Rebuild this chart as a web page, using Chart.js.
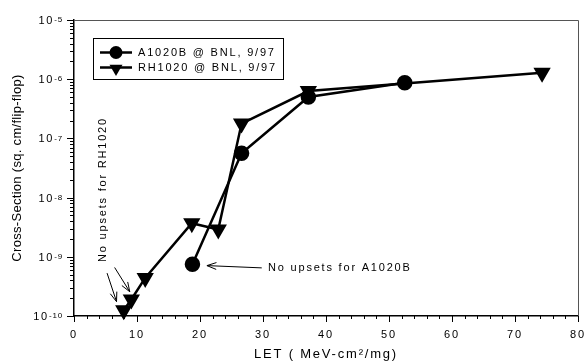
<!DOCTYPE html>
<html>
<head>
<meta charset="utf-8">
<script src="https://cdn.jsdelivr.net/npm/chart.js@4/dist/chart.umd.min.js"></script>
<style>
  html, body { margin: 0; padding: 0; background: #fff; }
  canvas { display: block; }
</style>
</head>
<body>
<canvas id="myChart" width="588" height="364"></canvas>
<script>
// LET (MeV-cm2/mg) and cross-section (sq. cm/flip-flop)
let letA = [18.8, 26.6, 37.2, 52.5];
let csA = [7.5e-10, 5.6e-8, 5.0e-7, 8.7e-7];
let letRH = [7.9, 9.1, 11.3, 18.7, 22.9, 26.6, 37.2, 74.3];
let csRH = [1.25e-10, 1.9e-10, 4.4e-10, 3.7e-9, 2.9e-9, 1.78e-7, 6.3e-7, 1.28e-6];
let seriesNames = ['A1020B @ BNL, 9/97', 'RH1020 @ BNL, 9/97'];
let yTickExps = [-10, -9, -8, -7, -6, -5];

const FONT = '"Liberation Sans", Arial, sans-serif';

function toPoints(xs, ys) {
    return xs.map((x, i) => ({ x: x, y: ys[i] }));
}

function arrow(ctx, x1, y1, x2, y2) {
    let a = Math.atan2(y2 - y1, x2 - x1);
    let len = 10, spread = 0.35;
    ctx.beginPath();
    ctx.moveTo(x1, y1);
    ctx.lineTo(x2, y2);
    ctx.moveTo(x2 - len * Math.cos(a - spread), y2 - len * Math.sin(a - spread));
    ctx.lineTo(x2, y2);
    ctx.lineTo(x2 - len * Math.cos(a + spread), y2 - len * Math.sin(a + spread));
    ctx.stroke();
}

function marker(ctx, style, x, y) {
    ctx.beginPath();
    if (style === 'circle') {
        ctx.arc(x, y, 6.5, 0, Math.PI * 2);
    } else {
        let r = 7.5;
        ctx.moveTo(x, y + r);
        ctx.lineTo(x - r * 0.866, y - r / 2);
        ctx.lineTo(x + r * 0.866, y - r / 2);
        ctx.closePath();
    }
    ctx.fill();
}

// extra drawing: minor ticks, frame, superscript labels, legend box, notes
const decor = {
    id: 'decor',
    beforeLayout(chart) { chart.ctx.letterSpacing = '1.8px'; },
    beforeDraw(chart) { chart.ctx.letterSpacing = '1.8px'; },
    beforeDatasetsDraw(chart) {
        let ctx = chart.ctx, a = chart.chartArea;
        let xs = chart.scales.x, ys = chart.scales.y;
        ctx.save();
        // top / right frame
        ctx.strokeStyle = '#555';
        ctx.lineWidth = 1;
        ctx.beginPath();
        ctx.moveTo(a.left, a.top + 0.5);
        ctx.lineTo(a.right + 0.5, a.top + 0.5);
        ctx.lineTo(a.right + 0.5, a.bottom);
        ctx.stroke();
        // x ticks
        ctx.strokeStyle = '#000';
        ctx.beginPath();
        for (let v = 0; v <= 80; v += 2) {
            let px = Math.round(xs.getPixelForValue(v)) + 0.5;
            let l = v % 10 === 0 ? 6 : 3;
            ctx.moveTo(px, a.bottom);
            ctx.lineTo(px, a.bottom + l);
        }
        // y ticks (log minors)
        for (let e = yTickExps[0]; e < yTickExps[yTickExps.length - 1]; e++) {
            for (let m = 1; m <= 9; m++) {
                let py = Math.round(ys.getPixelForValue(m * Math.pow(10, e))) + 0.5;
                let l = m === 1 ? 7 : 4;
                ctx.moveTo(a.left, py);
                ctx.lineTo(a.left - l, py);
            }
        }
        let pt = Math.round(ys.getPixelForValue(Math.pow(10, yTickExps[yTickExps.length - 1]))) + 0.5;
        ctx.moveTo(a.left, pt);
        ctx.lineTo(a.left - 7, pt);
        ctx.stroke();
        ctx.restore();
    },
    afterDraw(chart) {
        let ctx = chart.ctx, a = chart.chartArea;
        let xs = chart.scales.x, ys = chart.scales.y;
        ctx.save();
        ctx.fillStyle = '#000';
        ctx.strokeStyle = '#000';
        ctx.letterSpacing = '1.8px';

        // y tick labels 10^e
        yTickExps.forEach(e => {
            let py = ys.getPixelForValue(Math.pow(10, e));
            ctx.font = '8px ' + FONT;
            ctx.letterSpacing = '0.8px';
            let sup = String(e);
            let wSup = ctx.measureText(sup).width;
            ctx.textAlign = 'left';
            ctx.textBaseline = 'top';
            let right = a.left - 11;
            ctx.fillText(sup, right - wSup, py - 4);
            ctx.font = '11px ' + FONT;
            ctx.letterSpacing = '1.8px';
            ctx.textAlign = 'right';
            ctx.textBaseline = 'middle';
            ctx.fillText('10', right - wSup, py + 1);
        });

        // y title
        ctx.save();
        ctx.font = '13px ' + FONT;
        ctx.letterSpacing = '0.3px';
        ctx.translate(17, (a.top + a.bottom) / 2);
        ctx.rotate(-Math.PI / 2);
        ctx.textAlign = 'center';
        ctx.textBaseline = 'middle';
        ctx.fillText('Cross-Section (sq. cm/flip-flop)', 0, 0);
        ctx.restore();

        // legend
        ctx.lineWidth = 1;
        ctx.strokeRect(93.5, 38.5, 190, 41);
        ctx.font = '11px ' + FONT;
        ctx.letterSpacing = '1.8px';
        ctx.textAlign = 'left';
        ctx.textBaseline = 'middle';
        ['circle', 'triangle'].forEach((s, i) => {
            let y = 52.5 + i * 15;
            ctx.lineWidth = 2.5;
            ctx.beginPath();
            ctx.moveTo(100, y);
            ctx.lineTo(132, y);
            ctx.stroke();
            marker(ctx, s, 116, s === 'circle' ? y : y + 1);
            ctx.fillText(seriesNames[i], 138, y);
        });

        // notes
        ctx.lineWidth = 1;
        let X = v => xs.getPixelForValue(v), Y = v => ys.getPixelForValue(v);
        arrow(ctx, X(29.8), Y(6.5e-10), X(21.1), Y(7.1e-10));
        ctx.fillText('No upsets for A1020B', X(30.8), Y(6.5e-10));
        arrow(ctx, X(5.25), Y(5.3e-10), X(6.75), Y(1.75e-10));
        arrow(ctx, X(6.45), Y(6.6e-10), X(8.85), Y(2.57e-10));
        ctx.save();
        ctx.translate(X(4.6), Y(8.2e-10));
        ctx.rotate(-Math.PI / 2);
        ctx.textAlign = 'left';
        ctx.fillText('No upsets for RH1020', 0, 0);
        ctx.restore();
        ctx.restore();
    }
};

let ctx = document.getElementById('myChart').getContext('2d');
let myChart = new Chart(ctx, {
    type: 'line',
    data: {
        datasets: [{
            label: seriesNames[0],
            data: toPoints(letA, csA),
            borderColor: '#000',
            backgroundColor: '#000',
            borderWidth: 2.5,
            pointStyle: 'circle',
            pointRadius: 6.5,
            pointHoverRadius: 6.5,
            clip: false
        }, {
            label: seriesNames[1],
            data: toPoints(letRH, csRH),
            borderColor: '#000',
            backgroundColor: '#000',
            borderWidth: 2.5,
            pointStyle: 'triangle',
            rotation: 180,
            pointRadius: 7.5,
            pointHoverRadius: 7.5,
            clip: false
        }]
    },
    options: {
        responsive: false,
        animation: false,
        events: [],
        layout: { padding: { left: 0, right: 7, top: 20, bottom: 0 } },
        plugins: { legend: { display: false }, tooltip: { enabled: false } },
        scales: {
            x: {
                type: 'linear',
                min: 0,
                max: 80,
                afterFit: s => { s.height = 48; s.paddingLeft = 0; s.paddingRight = 0; },
                grid: { display: false, drawTicks: false },
                border: { display: true, color: '#000', width: 1.5 },
                ticks: {
                    stepSize: 10,
                    maxRotation: 0,
                    padding: 12,
                    color: '#000',
                    font: { family: FONT, size: 11 }
                },
                title: {
                    display: true,
                    text: 'LET ( MeV-cm\u00B2/mg)',
                    color: '#000',
                    font: { family: FONT, size: 13 },
                    padding: { top: 0, bottom: 2 }
                }
            },
            y: {
                type: 'logarithmic',
                min: Math.pow(10, yTickExps[0]),
                max: Math.pow(10, yTickExps[yTickExps.length - 1]),
                afterFit: s => { s.width = 74; s.paddingTop = 0; s.paddingBottom = 0; },
                grid: { display: false, drawTicks: false },
                border: { display: true, color: '#000', width: 1.5 },
                ticks: { display: false }
            }
        }
    },
    plugins: [decor]
});
</script>
</body>
</html>
